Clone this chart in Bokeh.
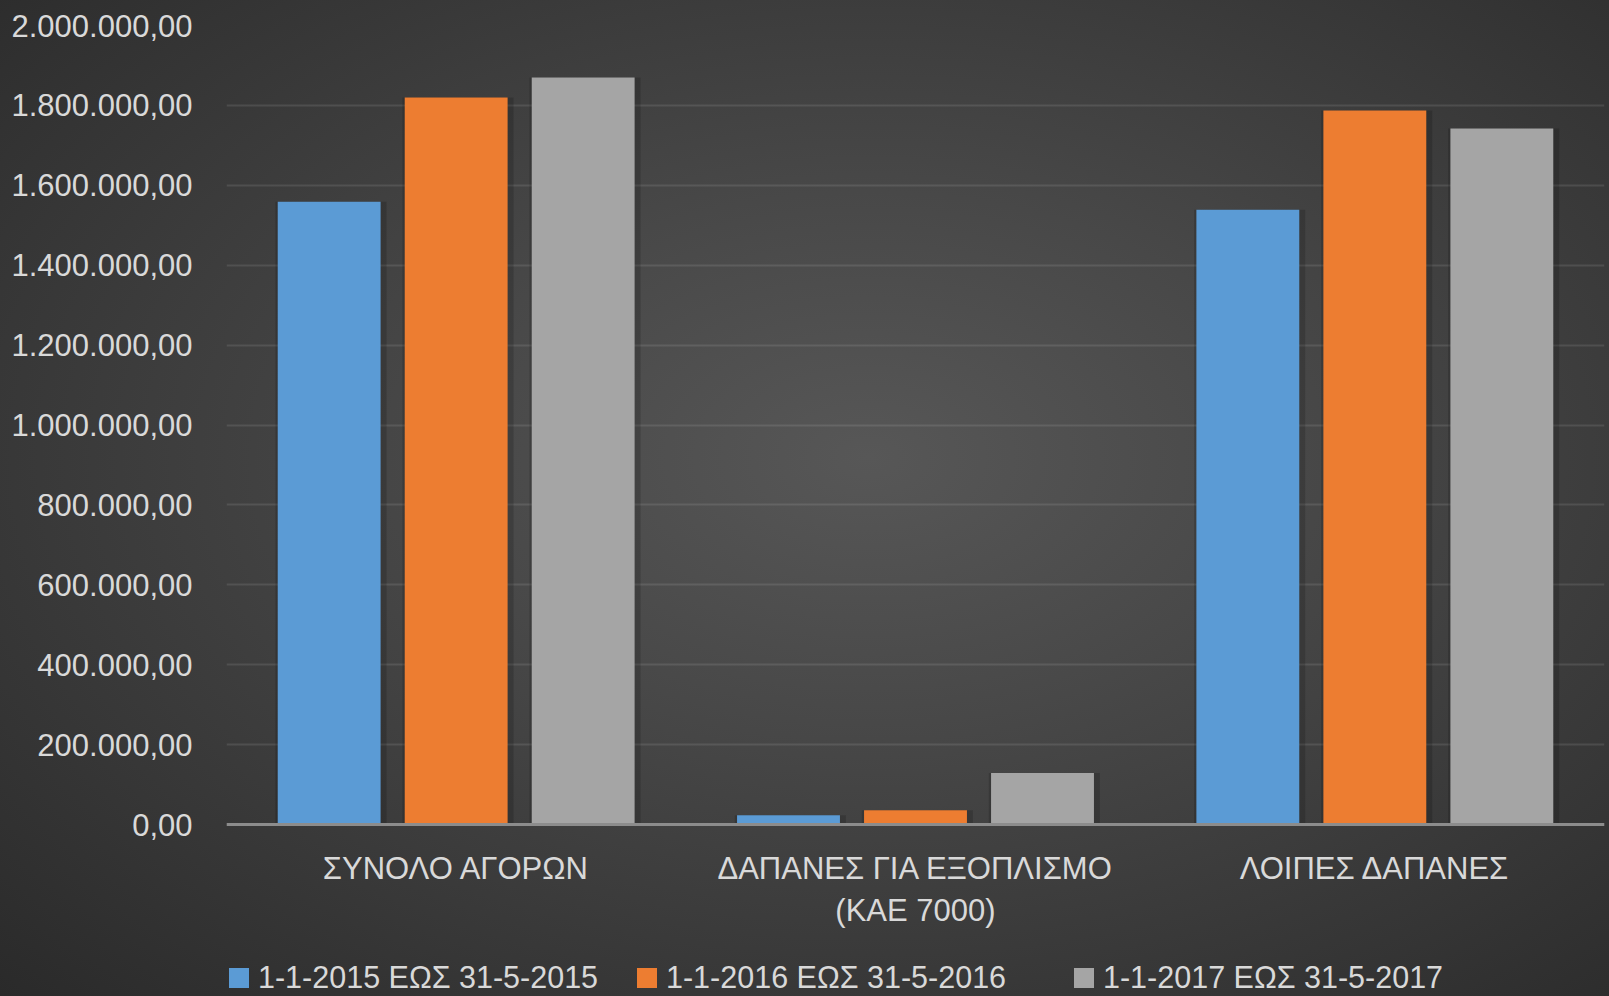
from bokeh.plotting import figure
from bokeh.models import FactorRange, Range1d, FixedTicker, Legend, LegendItem
from bokeh.transform import dodge
from bokeh.embed import file_html
from bokeh.resources import INLINE

categories = ["ΣΥΝΟΛΟ ΑΓΟΡΩΝ", "ΔΑΠΑΝΕΣ ΓΙΑ ΕΞΟΠΛΙΣΜΟ\n(ΚΑΕ 7000)", "ΛΟΙΠΕΣ ΔΑΠΑΝΕΣ"]
series_names = ["1-1-2015 ΕΩΣ 31-5-2015", "1-1-2016 ΕΩΣ 31-5-2016", "1-1-2017 ΕΩΣ 31-5-2017"]
values_2015 = [1559000, 23000, 1539000]
values_2016 = [1820000, 36000, 1787000]
values_2017 = [1870000, 129000, 1742000]
y_ticks = [0, 200000, 400000, 600000, 800000, 1000000, 1200000, 1400000, 1600000, 1800000, 2000000]
y_tick_labels = ["0,00", "200.000,00", "400.000,00", "600.000,00", "800.000,00", "1.000.000,00",
                 "1.200.000,00", "1.400.000,00", "1.600.000,00", "1.800.000,00", "2.000.000,00"]
colors = ["#5b9bd5", "#ed7d31", "#a5a5a5"]

FONT = "Liberation Sans"
TXT = "#d9d9d9"
GRAD = "radial-gradient(ellipse at 54% 46%, #575757 0%, #484848 35%, #2a2a2a 100%)"

# frame spans below zero so the category labels and legend sit inside it
p = figure(x_range=FactorRange(*categories), y_range=Range1d(-428000, 2000000),
           width=1608, height=995, output_backend="svg", toolbar_location=None,
           min_border_left=226, min_border_right=4, min_border_top=25, min_border_bottom=0)
p.background_fill_color = None
p.border_fill_color = None
p.outline_line_color = None
p.styles = {"background": GRAD}

data = dict(cat=categories, v0=values_2015, v1=values_2016, v2=values_2017)
offsets = [-0.2765, 0.0, 0.2765]
keys = ["v0", "v1", "v2"]

# soft drop shadow behind the bars
for i, key in enumerate(keys):
    p.vbar(x=dodge("cat", offsets[i] + 0.004, range=p.x_range), top=key, width=0.242,
           source=data, fill_color="#000000", fill_alpha=0.16, line_color=None)

renderers = []
for i, key in enumerate(keys):
    r = p.vbar(x=dodge("cat", offsets[i], range=p.x_range), top=key, width=0.224,
               source=data, fill_color=colors[i], line_color=None)
    renderers.append(r)

p.xgrid.grid_line_color = None
p.ygrid.ticker = FixedTicker(ticks=y_ticks)
p.ygrid.grid_line_color = "#ffffff"
p.ygrid.grid_line_alpha = 0.1
p.ygrid.grid_line_width = 2

p.yaxis.ticker = FixedTicker(ticks=y_ticks)
p.yaxis.major_label_overrides = {t: l for t, l in zip(y_ticks, y_tick_labels)}
p.yaxis.axis_line_color = None
p.yaxis.major_tick_line_color = None
p.yaxis.minor_tick_line_color = None
p.yaxis.major_label_text_font = FONT
p.yaxis.major_label_text_font_size = "31px"
p.yaxis.major_label_text_color = TXT
p.yaxis.major_label_standoff = 28

p.xaxis.fixed_location = 0
p.xaxis.axis_line_color = "#8c8c8c"
p.xaxis.axis_line_width = 3
p.xaxis.major_tick_line_color = None
p.xaxis.minor_tick_line_color = None
p.xaxis.major_label_text_font = FONT
p.xaxis.major_label_text_font_size = "31px"
p.xaxis.major_label_text_color = TXT
p.xaxis.major_label_standoff = 20

legend_x = [0, 408, 845]
for i in range(3):
    lg = Legend(items=[LegendItem(label=series_names[i], renderers=[renderers[i]])],
                orientation="horizontal", location=(legend_x[i], 0))
    lg.background_fill_color = None
    lg.background_fill_alpha = 0
    lg.border_line_color = None
    lg.label_text_font = FONT
    lg.label_text_font_size = "30.5px"
    lg.label_text_color = TXT
    lg.glyph_width = 25
    lg.glyph_height = 25
    lg.label_standoff = 7
    lg.padding = 0
    lg.margin = 0
    p.add_layout(lg, "center")

html = file_html(p, INLINE)
i = html.rfind("<body>")
if i >= 0:
    html = html[:i] + '<body style="background: %s;">' % GRAD + html[i + len("<body>"):]
open("out.html", "w").write(html)
